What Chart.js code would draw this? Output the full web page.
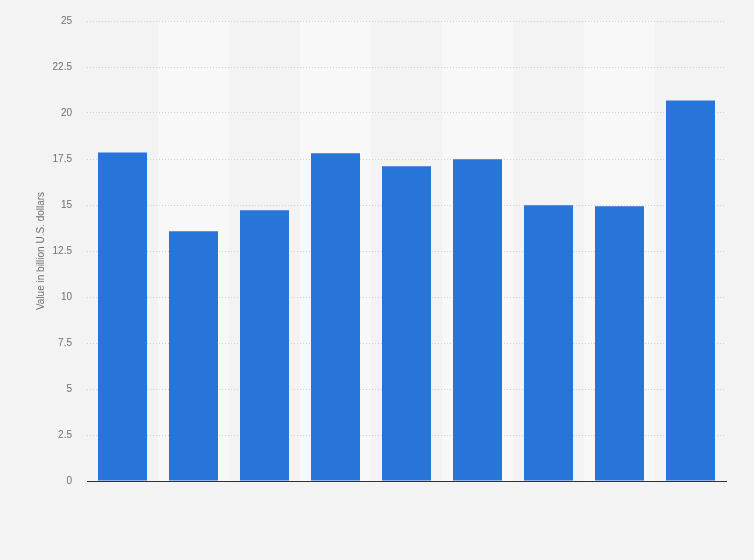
<!DOCTYPE html>
<html>
<head>
<meta charset="utf-8">
<script src="https://cdn.jsdelivr.net/npm/chart.js@4"></script>
<style>
  html, body { margin: 0; padding: 0; background: #f3f3f3; }
  #wrap { width: 754px; height: 560px; }
</style>
</head>
<body>
<div id="wrap"><canvas id="chart"></canvas></div>
<script>
// Data (no category labels shown)
const categories = ['', '', '', '', '', '', '', '', ''];
const values = [17.85, 13.57, 14.71, 17.81, 17.1, 17.48, 14.98, 14.93, 20.68];
const yTicks = [0, 2.5, 5, 7.5, 10, 12.5, 15, 17.5, 20, 22.5, 25];

// Alternating lighter column bands behind the bars
const bandPlugin = {
  id: 'bands',
  beforeDraw(chart) {
    const { ctx, chartArea, scales } = chart;
    const x = scales.x;
    const step = (chartArea.right - chartArea.left) / categories.length;
    ctx.save();
    ctx.fillStyle = '#f8f8f8';
    categories.forEach((c, i) => {
      if (i % 2 === 1) {
        const cx = x.getPixelForValue(i);
        ctx.fillRect(cx - step / 2, chartArea.top, step, chartArea.bottom - chartArea.top);
      }
    });
    ctx.restore();
  }
};

const ctx = document.getElementById('chart');
new Chart(ctx, {
  type: 'bar',
  data: {
    labels: categories,
    datasets: [{
      data: values,
      backgroundColor: '#2775d9',
      barPercentage: 0.69,
      categoryPercentage: 1
    }]
  },
  options: {
    responsive: true,
    maintainAspectRatio: false,
    animation: false,
    layout: {
      padding: { top: 20, bottom: 79, left: 35, right: 28 }
    },
    scales: {
      x: {
        grid: { display: false, drawTicks: false },
        ticks: { display: false },
        border: { display: true, color: '#333333', width: 1 }
      },
      y: {
        min: 0,
        max: 25,
        afterBuildTicks: axis => { axis.ticks = yTicks.map(v => ({ value: v })); },
        afterFit: axis => { axis.width = 52; },
        grid: { color: '#cfcfcf', drawTicks: false, lineWidth: 1 },
        border: { display: false, dash: [1, 2] },
        ticks: {
          padding: 15,
          color: '#707070',
          font: { family: 'Liberation Sans, Arial, sans-serif', size: 10 }
        },
        title: {
          display: true,
          text: 'Value in billion U.S. dollars',
          color: '#707070',
          padding: 0,
          font: { family: 'Liberation Sans, Arial, sans-serif', size: 10 }
        }
      }
    },
    plugins: {
      legend: { display: false },
      tooltip: { enabled: false }
    }
  },
  plugins: [bandPlugin]
});
</script>
</body>
</html>
